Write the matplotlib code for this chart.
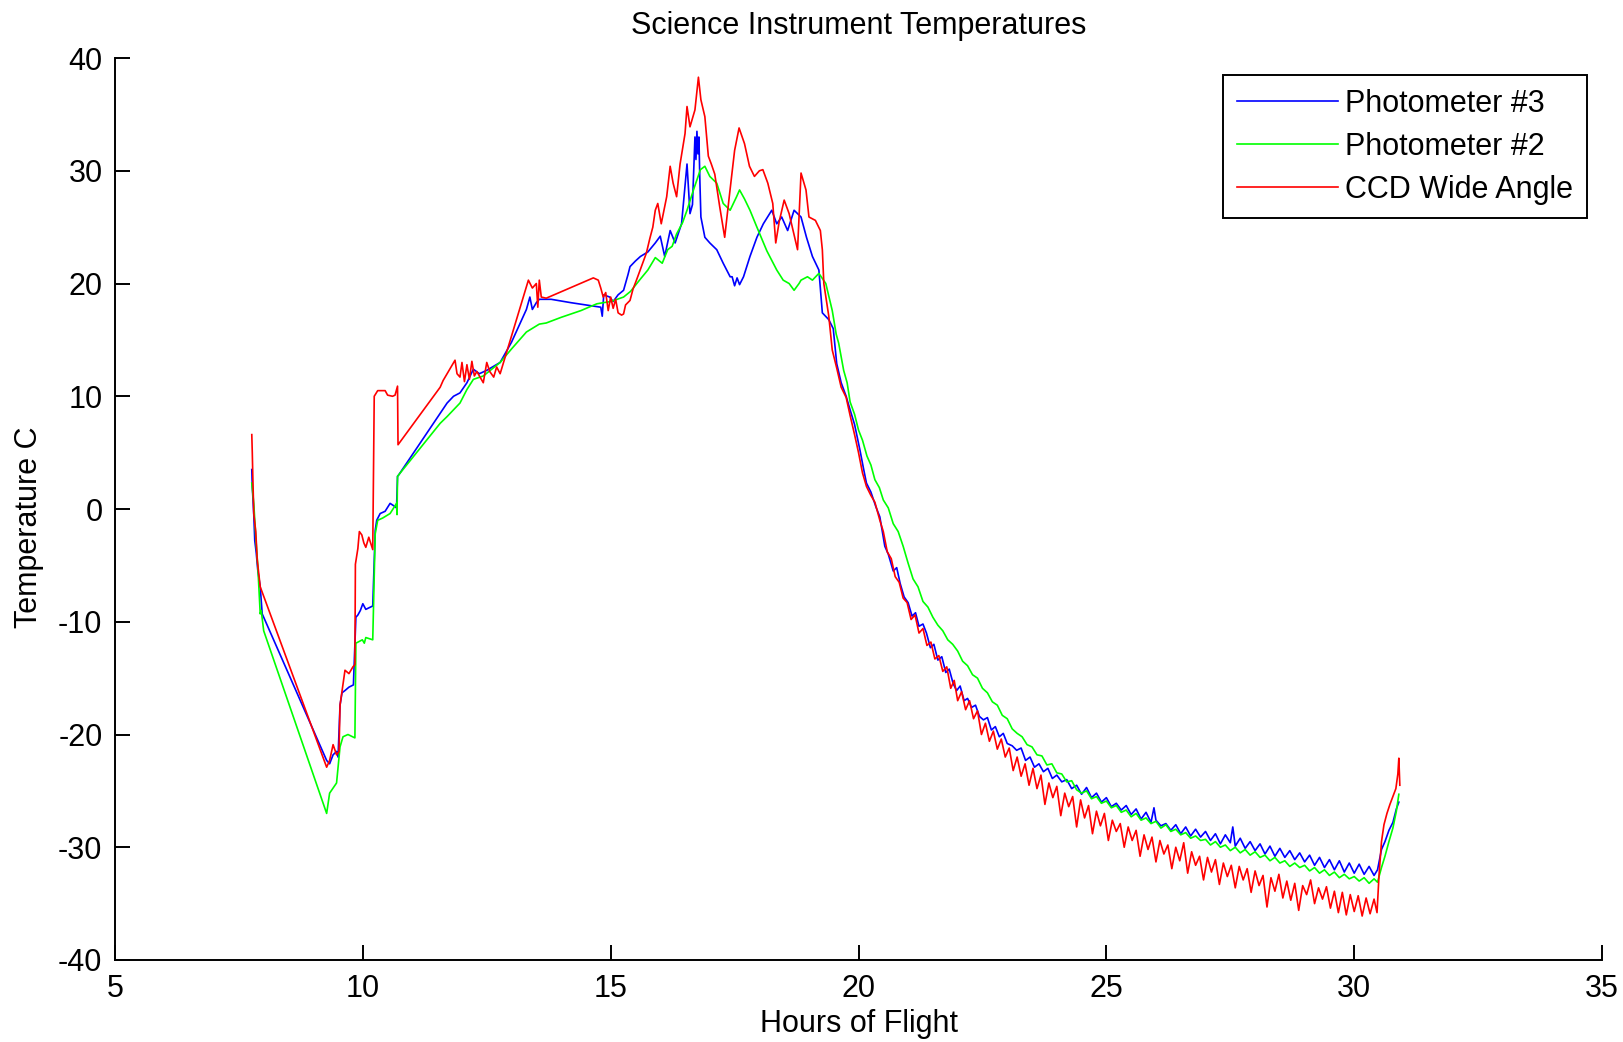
import numpy as np
import matplotlib
matplotlib.use('Agg')
import matplotlib.pyplot as plt

plt.rcParams['font.family'] = ['Liberation Sans', 'DejaVu Sans']
plt.rcParams['axes.unicode_minus'] = False

# ── Data: (hours of flight, temperature C) ──────────────────────────────────
PHOT3 = [
    (7.76, 3.5), (7.77, 2.0), (7.80, -0.5), (7.82, -2.8), (7.85, -3.9), (7.88, -5.4),
    (7.93, -6.9), (7.97, -9.3), (9.27, -22.3), (9.33, -22.6), (9.40, -21.8), (9.47, -21.5),
    (9.50, -22.0), (9.54, -17.4), (9.58, -16.3), (9.64, -16.1), (9.72, -15.8), (9.81, -15.6),
    (9.86, -9.6), (9.90, -9.4), (9.95, -9.0), (10.00, -8.4), (10.06, -8.9), (10.20, -8.6),
    (10.25, -1.9), (10.28, -1.0), (10.35, -0.4), (10.45, -0.2), (10.55, 0.5), (10.62, 0.3),
    (10.68, 0.1), (10.70, 2.9), (10.72, 3.0), (11.56, 8.5), (11.70, 9.4), (11.83, 10.0),
    (11.96, 10.3), (12.10, 11.2), (12.23, 12.4), (12.35, 12.0), (12.50, 12.3), (12.77, 13.0),
    (13.00, 14.8), (13.30, 17.7), (13.37, 18.8), (13.42, 17.7), (13.50, 18.3), (13.56, 18.6),
    (13.80, 18.6), (14.20, 18.3), (14.65, 18.0), (14.80, 17.9), (14.83, 17.1), (14.86, 19.0),
    (14.98, 18.8), (15.05, 18.4), (15.15, 19.0), (15.26, 19.4), (15.35, 20.8), (15.39, 21.5),
    (15.50, 22.0), (15.60, 22.4), (15.75, 22.8), (15.90, 23.6), (16.00, 24.2), (16.09, 22.4),
    (16.20, 24.7), (16.30, 23.6), (16.43, 25.3), (16.54, 30.6), (16.60, 26.2), (16.65, 27.0),
    (16.70, 33.0), (16.72, 31.0), (16.74, 33.5), (16.76, 31.5), (16.78, 33.0), (16.80, 29.0),
    (16.82, 25.9), (16.90, 24.1), (17.00, 23.6), (17.14, 23.0), (17.27, 21.8), (17.41, 20.6),
    (17.45, 20.6), (17.50, 19.8), (17.55, 20.5), (17.60, 19.9), (17.68, 20.6), (17.81, 22.4),
    (17.95, 24.1), (18.08, 25.3), (18.25, 26.5), (18.35, 25.3), (18.45, 25.9), (18.57, 24.7),
    (18.70, 26.5), (18.84, 25.9), (18.95, 24.1), (19.07, 22.4), (19.20, 21.2), (19.27, 17.4),
    (19.40, 16.8), (19.49, 16.0), (19.56, 12.9), (19.65, 11.2), (19.75, 10.0), (19.83, 8.8),
    (19.92, 7.5), (20.03, 5.2), (20.10, 3.6), (20.16, 2.3), (20.25, 1.5), (20.35, 0.2),
    (20.43, -0.7), (20.53, -3.3), (20.60, -4.0), (20.70, -5.5), (20.77, -5.2), (20.84, -6.6),
    (20.92, -7.8), (21.00, -8.3), (21.08, -9.5), (21.15, -9.2), (21.22, -10.4), (21.30, -10.2),
    (21.37, -11.0), (21.45, -12.3), (21.52, -12.0), (21.60, -13.4), (21.68, -13.1), (21.76, -14.5),
    (21.83, -14.2), (21.91, -15.5), (21.98, -16.1), (22.05, -15.7), (22.13, -17.0), (22.20, -16.8),
    (22.28, -17.6), (22.36, -17.4), (22.44, -18.4), (22.52, -18.7), (22.60, -18.5), (22.68, -19.6),
    (22.76, -19.3), (22.84, -20.2), (22.92, -19.9), (23.00, -20.8), (23.10, -21.0), (23.19, -21.4),
    (23.28, -21.2), (23.37, -22.3), (23.46, -22.0), (23.55, -22.9), (23.64, -22.6), (23.73, -23.3),
    (23.82, -23.0), (23.91, -23.9), (24.00, -23.6), (24.10, -24.2), (24.20, -24.0), (24.30, -24.8),
    (24.40, -24.5), (24.50, -25.3), (24.60, -24.7), (24.70, -25.6), (24.80, -25.2), (24.90, -26.0),
    (25.00, -25.6), (25.10, -26.4), (25.20, -26.1), (25.30, -26.7), (25.40, -26.3), (25.50, -27.1),
    (25.60, -26.6), (25.70, -27.5), (25.80, -26.9), (25.90, -27.8), (25.96, -26.5), (26.00, -27.6),
    (26.10, -28.1), (26.20, -27.9), (26.30, -28.5), (26.40, -28.0), (26.50, -28.8), (26.60, -28.2),
    (26.70, -29.0), (26.80, -28.4), (26.90, -29.1), (27.00, -28.6), (27.10, -29.4), (27.20, -28.8),
    (27.30, -29.7), (27.40, -28.9), (27.50, -29.6), (27.55, -28.2), (27.60, -29.9), (27.70, -29.2),
    (27.80, -30.1), (27.90, -29.5), (28.00, -30.3), (28.10, -29.7), (28.20, -30.6), (28.30, -29.9),
    (28.40, -30.8), (28.50, -30.1), (28.60, -30.9), (28.70, -30.3), (28.80, -31.1), (28.90, -30.5),
    (29.00, -31.3), (29.10, -30.7), (29.20, -31.6), (29.30, -30.9), (29.40, -31.8), (29.50, -31.1),
    (29.60, -32.0), (29.70, -31.2), (29.80, -32.2), (29.90, -31.4), (30.00, -32.3), (30.10, -31.5),
    (30.20, -32.4), (30.30, -31.7), (30.40, -32.5), (30.47, -32.0), (30.55, -30.2), (30.62, -29.5),
    (30.70, -28.5), (30.78, -27.8), (30.85, -26.6), (30.90, -26.0),
]

PHOT2 = [
    (7.76, 2.3), (7.80, 0.5), (7.84, -2.5), (7.88, -5.0), (7.93, -9.3), (7.95, -9.0),
    (8.00, -10.8), (9.27, -27.0), (9.33, -25.2), (9.47, -24.3), (9.54, -21.1), (9.60, -20.2),
    (9.70, -20.0), (9.84, -20.3), (9.86, -11.9), (9.99, -11.6), (10.03, -11.9), (10.06, -11.4),
    (10.20, -11.6), (10.25, -2.2), (10.30, -1.0), (10.40, -0.8), (10.55, -0.4), (10.68, 0.5),
    (10.69, -0.5), (10.70, 2.9), (11.56, 7.6), (11.70, 8.2), (11.83, 8.8), (11.96, 9.4),
    (12.10, 10.6), (12.23, 11.5), (12.43, 11.8), (12.77, 13.0), (13.00, 14.2), (13.30, 15.7),
    (13.56, 16.4), (13.70, 16.5), (14.00, 17.0), (14.40, 17.6), (14.72, 18.2), (14.85, 18.3),
    (15.00, 18.4), (15.26, 18.8), (15.40, 19.3), (15.60, 20.4), (15.75, 21.2), (15.90, 22.3),
    (16.04, 21.8), (16.15, 23.0), (16.24, 23.3), (16.33, 24.4), (16.45, 25.4), (16.54, 26.5),
    (16.67, 28.3), (16.81, 30.1), (16.90, 30.4), (17.00, 29.5), (17.14, 28.9), (17.27, 27.1),
    (17.41, 26.5), (17.54, 27.7), (17.60, 28.3), (17.70, 27.5), (17.81, 26.5), (17.95, 25.0),
    (18.15, 22.9), (18.35, 21.2), (18.48, 20.3), (18.60, 20.0), (18.70, 19.4), (18.80, 20.0),
    (18.84, 20.3), (18.97, 20.6), (19.07, 20.3), (19.20, 20.9), (19.34, 20.0), (19.47, 17.6),
    (19.55, 15.5), (19.60, 14.7), (19.70, 12.3), (19.77, 11.2), (19.83, 9.5), (19.92, 8.4),
    (20.00, 7.0), (20.08, 6.1), (20.17, 4.7), (20.25, 3.9), (20.33, 2.6), (20.42, 1.9),
    (20.50, 0.8), (20.60, 0.1), (20.70, -1.3), (20.80, -2.0), (20.90, -3.3), (21.00, -4.8),
    (21.10, -6.2), (21.20, -6.9), (21.30, -8.2), (21.40, -8.7), (21.50, -9.6), (21.60, -10.3),
    (21.70, -10.8), (21.80, -11.6), (21.90, -12.0), (22.00, -12.6), (22.10, -13.5), (22.20, -13.9),
    (22.30, -14.7), (22.40, -15.0), (22.50, -15.9), (22.60, -16.3), (22.70, -17.1), (22.80, -17.4),
    (22.90, -18.3), (23.00, -18.6), (23.10, -19.5), (23.20, -19.9), (23.30, -20.2), (23.40, -20.9),
    (23.50, -21.1), (23.60, -21.8), (23.70, -21.9), (23.80, -22.7), (23.90, -22.6), (24.00, -23.4),
    (24.10, -23.5), (24.20, -24.2), (24.30, -24.1), (24.40, -24.9), (24.50, -25.2), (24.60, -25.0),
    (24.70, -25.7), (24.80, -25.5), (24.90, -26.1), (25.00, -25.9), (25.10, -26.5), (25.20, -26.3),
    (25.30, -26.9), (25.40, -26.7), (25.50, -27.3), (25.60, -27.0), (25.70, -27.6), (25.80, -27.4),
    (25.90, -27.9), (26.00, -27.7), (26.10, -28.3), (26.20, -28.0), (26.30, -28.6), (26.40, -28.4),
    (26.50, -28.9), (26.60, -28.7), (26.70, -29.2), (26.80, -29.0), (26.90, -29.4), (27.00, -29.3),
    (27.10, -29.8), (27.20, -29.5), (27.30, -30.0), (27.40, -29.8), (27.50, -30.3), (27.60, -30.0),
    (27.70, -30.5), (27.80, -30.2), (27.90, -30.7), (28.00, -30.4), (28.10, -30.9), (28.20, -30.7),
    (28.30, -31.2), (28.40, -30.9), (28.50, -31.4), (28.60, -31.2), (28.70, -31.7), (28.80, -31.4),
    (28.90, -31.8), (29.00, -31.6), (29.10, -32.1), (29.20, -31.8), (29.30, -32.3), (29.40, -32.0),
    (29.50, -32.5), (29.60, -32.2), (29.70, -32.7), (29.80, -32.4), (29.90, -32.8), (30.00, -32.6),
    (30.10, -33.0), (30.20, -32.7), (30.30, -33.2), (30.40, -32.8), (30.47, -33.1), (30.55, -31.8),
    (30.62, -30.8), (30.70, -29.5), (30.78, -28.3), (30.85, -26.8), (30.90, -25.3),
]

CCD = [
    (7.76, 6.6), (7.77, 5.0), (7.78, 3.0), (7.80, -0.4), (7.84, -2.0), (7.87, -4.5),
    (7.93, -6.9), (9.27, -22.9), (9.33, -22.3), (9.40, -20.9), (9.47, -21.8), (9.52, -21.5),
    (9.54, -17.4), (9.60, -15.5), (9.64, -14.3), (9.72, -14.6), (9.80, -14.0), (9.84, -13.8),
    (9.85, -4.9), (9.90, -3.5), (9.93, -2.0), (9.98, -2.3), (10.02, -3.0), (10.06, -3.4),
    (10.12, -2.5), (10.20, -3.6), (10.23, 10.0), (10.30, 10.5), (10.45, 10.5), (10.50, 10.1),
    (10.60, 10.0), (10.65, 10.1), (10.70, 10.9), (10.71, 5.7), (11.56, 10.8), (11.62, 11.4),
    (11.86, 13.2), (11.90, 12.0), (11.96, 11.7), (12.00, 13.0), (12.05, 11.3), (12.10, 12.8),
    (12.15, 11.5), (12.20, 13.1), (12.25, 11.8), (12.30, 12.2), (12.43, 11.2), (12.50, 13.0),
    (12.56, 12.2), (12.64, 11.7), (12.70, 12.6), (12.77, 12.0), (13.34, 20.3), (13.42, 19.6),
    (13.50, 20.0), (13.53, 17.9), (13.56, 20.3), (13.60, 18.8), (13.70, 18.7), (14.65, 20.5),
    (14.75, 20.3), (14.80, 19.6), (14.85, 18.8), (14.90, 19.2), (14.95, 17.6), (15.00, 18.8),
    (15.05, 17.8), (15.10, 18.6), (15.15, 17.4), (15.22, 17.2), (15.26, 17.3), (15.30, 18.1),
    (15.39, 18.5), (15.45, 19.5), (15.52, 20.3), (15.72, 22.7), (15.79, 24.0), (15.85, 25.0),
    (15.90, 26.5), (15.95, 27.1), (16.02, 25.3), (16.13, 27.7), (16.20, 30.4), (16.26, 28.9),
    (16.33, 27.7), (16.40, 30.6), (16.50, 33.3), (16.54, 35.7), (16.60, 33.9), (16.70, 35.4),
    (16.77, 38.3), (16.82, 36.3), (16.90, 34.8), (16.97, 31.3), (17.03, 30.6), (17.10, 29.7),
    (17.20, 26.8), (17.30, 24.1), (17.40, 28.0), (17.50, 31.8), (17.59, 33.8), (17.70, 32.4),
    (17.80, 30.4), (17.90, 29.5), (18.00, 30.0), (18.07, 30.1), (18.17, 28.9), (18.27, 27.1),
    (18.33, 23.6), (18.40, 25.5), (18.50, 27.4), (18.60, 26.2), (18.68, 24.7), (18.77, 23.0),
    (18.84, 29.8), (18.94, 28.3), (19.00, 25.9), (19.13, 25.6), (19.23, 24.7), (19.27, 23.0),
    (19.30, 20.0), (19.40, 17.1), (19.47, 14.1), (19.56, 12.5), (19.65, 10.8), (19.75, 9.9),
    (19.83, 8.3), (19.92, 6.6), (20.00, 5.0), (20.08, 3.2), (20.16, 2.0), (20.25, 1.2),
    (20.33, 0.6), (20.43, -1.0), (20.50, -2.0), (20.58, -3.8), (20.66, -4.4), (20.74, -6.0),
    (20.82, -6.5), (20.90, -7.9), (20.98, -8.3), (21.06, -9.8), (21.14, -9.4), (21.22, -11.0),
    (21.30, -10.6), (21.38, -12.1), (21.46, -11.8), (21.54, -13.3), (21.62, -13.0), (21.70, -14.4),
    (21.78, -14.0), (21.86, -15.9), (21.93, -15.2), (22.00, -17.0), (22.08, -16.2), (22.16, -17.8),
    (22.24, -17.0), (22.32, -18.6), (22.40, -17.9), (22.48, -20.0), (22.56, -19.0), (22.64, -20.6),
    (22.72, -19.7), (22.80, -21.3), (22.88, -20.4), (22.96, -22.0), (23.04, -21.2), (23.12, -23.2),
    (23.20, -22.0), (23.28, -23.7), (23.36, -22.6), (23.44, -24.5), (23.52, -23.0), (23.60, -24.8),
    (23.68, -23.6), (23.76, -26.2), (23.84, -24.3), (23.92, -25.6), (24.00, -24.6), (24.08, -27.2),
    (24.16, -25.2), (24.24, -26.4), (24.32, -25.5), (24.40, -28.2), (24.48, -25.8), (24.56, -27.4),
    (24.64, -26.3), (24.72, -28.8), (24.80, -26.8), (24.88, -28.1), (24.96, -27.0), (25.04, -29.4),
    (25.12, -27.6), (25.20, -28.6), (25.28, -27.9), (25.36, -30.0), (25.44, -28.2), (25.52, -29.4),
    (25.60, -28.5), (25.68, -30.8), (25.76, -28.9), (25.84, -30.2), (25.92, -29.1), (26.00, -31.3),
    (26.08, -29.4), (26.16, -30.6), (26.24, -29.8), (26.32, -31.9), (26.40, -30.0), (26.48, -31.2),
    (26.56, -29.6), (26.64, -32.3), (26.72, -30.4), (26.80, -31.6), (26.88, -30.8), (26.96, -32.9),
    (27.04, -30.9), (27.12, -32.2), (27.20, -31.1), (27.28, -33.3), (27.36, -31.4), (27.44, -32.6),
    (27.52, -31.6), (27.60, -33.6), (27.68, -31.7), (27.76, -32.9), (27.84, -31.9), (27.92, -34.0),
    (28.00, -32.1), (28.08, -33.4), (28.16, -32.5), (28.24, -35.3), (28.32, -32.7), (28.40, -33.9),
    (28.48, -32.4), (28.56, -34.5), (28.64, -33.0), (28.72, -34.7), (28.80, -33.2), (28.88, -35.6),
    (28.96, -33.4), (29.04, -34.2), (29.12, -32.9), (29.20, -35.0), (29.28, -33.6), (29.36, -34.6),
    (29.44, -33.5), (29.52, -35.4), (29.60, -33.9), (29.68, -35.8), (29.76, -34.0), (29.84, -36.0),
    (29.92, -34.2), (30.00, -35.7), (30.08, -34.3), (30.16, -36.1), (30.24, -34.5), (30.32, -35.9),
    (30.40, -34.6), (30.46, -35.8), (30.50, -32.5), (30.55, -29.5), (30.60, -28.0), (30.66, -27.0),
    (30.72, -26.2), (30.78, -25.5), (30.84, -24.8), (30.88, -23.5), (30.90, -22.1), (30.92, -24.5),
]

SERIES = [
    ('Photometer #3', PHOT3, (0, 0, 1)),
    ('Photometer #2', PHOT2, (0, 1, 0)),
    ('CCD Wide Angle', CCD, (1, 0, 0)),
]

FS = 22

fig = plt.figure(figsize=(16.24, 10.42), dpi=100)
ax = fig.add_axes([0.0708, 0.0787, 0.9157, 0.8656])

for name, pts, col in SERIES:
    arr = np.array(pts)
    ax.plot(arr[:, 0], arr[:, 1], color=col, lw=1.2, label=name)

ax.set_xlim(5, 35)
ax.set_ylim(-40, 40)
ax.set_xticks(range(5, 36, 5))
ax.set_yticks(range(-40, 41, 10))

for side in ('top', 'right'):
    ax.spines[side].set_visible(False)
for side in ('left', 'bottom'):
    ax.spines[side].set_linewidth(1.4)
ax.tick_params(direction='in', length=11, width=1.4, labelsize=FS,
               top=False, right=False)
ax.tick_params(axis='x', pad=10)
ax.tick_params(axis='y', pad=9)

ax.set_title('Science Instrument Temperatures', fontsize=FS, pad=17)
ax.set_xlabel('Hours of Flight', fontsize=FS, labelpad=4)
ax.set_ylabel('Temperature C', fontsize=FS)
ax.yaxis.set_label_coords(-0.048, 0.48)

leg = ax.legend(loc='upper right', bbox_to_anchor=(0.99, 0.981), fontsize=FS,
                fancybox=False, framealpha=1, edgecolor='black',
                handlelength=3.3, handletextpad=0.25, labelspacing=0.42,
                borderpad=0.45, borderaxespad=0)
leg.get_frame().set_linewidth(1.4)

fig.savefig('out.png', dpi=100)
